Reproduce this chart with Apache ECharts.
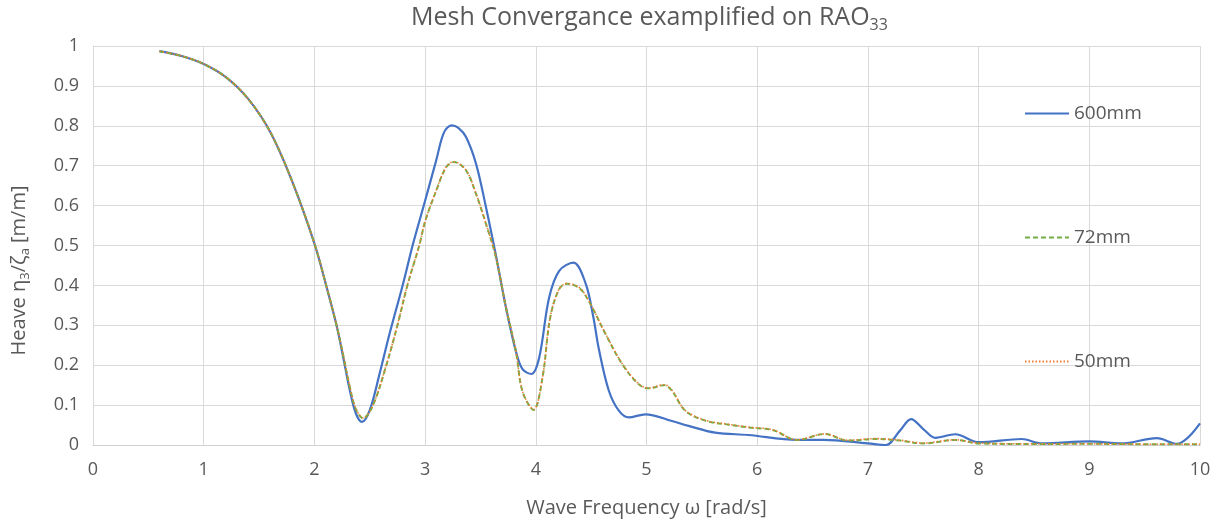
<!DOCTYPE html>
<html>
<head>
<meta charset="utf-8">
<script src="https://cdn.jsdelivr.net/npm/echarts@6/dist/echarts.min.js"></script>
<style>html,body{margin:0;padding:0;background:#fff;}#c{width:1225px;height:522px;}</style>
</head>
<body>
<div id="c"></div>
<script>
// ---- data ----
const xTicks = [0,1,2,3,4,5,6,7,8,9,10];
const yTicks = [0,0.1,0.2,0.3,0.4,0.5,0.6,0.7,0.8,0.9,1];

const x600 = [0.6,0.8,1.0,1.2,1.4,1.6,1.8,2.0,2.11,2.2,2.26,2.32,2.375,2.43,2.5,2.59,2.68,2.80,2.89,3.0,3.10,3.17,3.24,3.30,3.37,3.46,3.55,3.64,3.73,3.82,3.88,3.96,4.03,4.12,4.21,4.34,4.45,4.52,4.57,4.66,4.75,4.84,4.99,5.23,5.38,5.62,5.92,6.36,6.6,7.0,7.16,7.29,7.39,7.5,7.61,7.79,8.0,8.39,8.57,9.0,9.29,9.61,9.79,10.0];
const y600 = [0.987,0.975,0.955,0.922,0.868,0.785,0.66,0.505,0.396,0.30,0.22,0.137,0.079,0.058,0.0875,0.18,0.28,0.403,0.503,0.612,0.713,0.783,0.801,0.795,0.772,0.705,0.596,0.475,0.345,0.235,0.19,0.178,0.218,0.369,0.436,0.457,0.405,0.32,0.24,0.136,0.086,0.069,0.077,0.06,0.048,0.031,0.025,0.013,0.013,0.004,0.0,0.036,0.065,0.04,0.018,0.027,0.007,0.015,0.004,0.009,0.004,0.017,0.003,0.054];

const x72 = [0.6,0.8,1.0,1.2,1.4,1.6,1.8,2.0,2.11,2.2,2.26,2.32,2.375,2.44,2.53,2.65,2.75,2.84,2.95,3.0,3.10,3.19,3.26,3.37,3.46,3.55,3.64,3.73,3.82,3.88,3.98,4.06,4.13,4.21,4.28,4.39,4.48,4.63,4.78,4.93,5.02,5.16,5.23,5.35,5.53,5.74,5.92,6.14,6.36,6.61,6.82,7.07,7.29,7.5,7.79,8.0,8.5,9.0,9.5,10.0];
const y72 = [0.987,0.975,0.955,0.922,0.868,0.785,0.66,0.505,0.396,0.30,0.225,0.145,0.09,0.067,0.10,0.20,0.30,0.40,0.503,0.56,0.637,0.696,0.709,0.688,0.629,0.554,0.47,0.345,0.235,0.134,0.088,0.168,0.319,0.39,0.404,0.394,0.36,0.278,0.203,0.152,0.142,0.15,0.136,0.086,0.061,0.051,0.044,0.0375,0.0125,0.0275,0.011,0.015,0.011,0.004,0.0125,0.004,0.0025,0.003,0.002,0.002];

const x50 = [0.6,0.8,1.0,1.2,1.4,1.6,1.8,2.0,2.11,2.2,2.26,2.32,2.375,2.44,2.53,2.65,2.75,2.84,2.95,3.0,3.10,3.19,3.26,3.37,3.46,3.55,3.64,3.73,3.82,3.88,3.98,4.06,4.13,4.21,4.28,4.39,4.48,4.63,4.78,4.93,5.02,5.16,5.23,5.35,5.53,5.74,5.92,6.14,6.36,6.61,6.82,7.07,7.29,7.5,7.79,8.0,8.5,9.0,9.5,10.0];
const y50 = [0.987,0.975,0.955,0.922,0.868,0.785,0.66,0.505,0.397,0.301,0.226,0.146,0.091,0.068,0.101,0.201,0.301,0.401,0.504,0.561,0.638,0.697,0.71,0.689,0.63,0.555,0.471,0.346,0.236,0.135,0.089,0.169,0.32,0.391,0.405,0.395,0.361,0.279,0.204,0.153,0.143,0.151,0.137,0.087,0.062,0.052,0.045,0.038,0.013,0.028,0.012,0.016,0.012,0.005,0.013,0.005,0.003,0.003,0.002,0.002];

const seriesNames = ['600mm','72mm','50mm'];

function pairs(xs, ys){ return xs.map((x,i)=>[x, ys[i]]); }

const FONT = 'Open Sans';
const TXT = '#595959';
const chart = echarts.init(document.getElementById('c'));
chart.setOption({
  animation:false,
  textStyle:{fontFamily:FONT},
  title:{
    text:'{a|Mesh Convergance examplified on RAO}{s|33}',
    left:411, top:2, padding:0,
    textStyle:{fontWeight:'normal',rich:{
      a:{fontFamily:FONT,fontSize:25,fontWeight:'normal',color:TXT,lineHeight:31,verticalAlign:'middle'},
      s:{fontFamily:FONT,fontSize:16,fontWeight:'normal',color:TXT,lineHeight:16,verticalAlign:'bottom'}
    }}
  },
  grid:{left:93,right:25,top:46,bottom:77,containLabel:false,outerBoundsMode:'none'},
  legend:[0,1,2].map(i=>({
    data:[seriesNames[i]], orient:'vertical', left:1019, top:[99,223,347][i],
    itemWidth:44, itemHeight:14, itemGap:5,
    itemStyle:{opacity:0},
    textStyle:{fontFamily:FONT,fontSize:19,color:TXT}
  })),
  xAxis:{
    type:'value', min:0, max:10, interval:1,
    name:'Wave Frequency ω [rad/s]', nameLocation:'middle', nameGap:53,
    nameTextStyle:{fontFamily:FONT,fontSize:20,color:TXT},
    axisLine:{show:true,lineStyle:{color:'#D0D0D0',width:1}},
    axisTick:{show:false},
    axisLabel:{fontFamily:FONT,fontSize:18,color:TXT,margin:16,
      formatter:v=>xTicks.includes(v)?String(v):''},
    splitLine:{show:true,lineStyle:{color:'#D9D9D9',width:1}}
  },
  yAxis:{
    type:'value', min:0, max:1, interval:0.1,
    name:'Heave η{sub|3}/ζ{sub|a} [m/m]', nameLocation:'middle', nameGap:61, nameRotate:90,
    nameTextStyle:{fontFamily:FONT,fontSize:20,color:TXT,lineHeight:26,padding:[0,50,0,0],
      rich:{sub:{fontFamily:FONT,fontSize:13,color:TXT,lineHeight:15,verticalAlign:'bottom'}}},
    axisLine:{show:true,lineStyle:{color:'#D9D9D9'}},
    axisTick:{show:false},
    axisLabel:{fontFamily:FONT,fontSize:18,color:TXT,margin:14,
      formatter:v=>{const t=yTicks.find(k=>Math.abs(k-v)<1e-9);return t===undefined?'':String(t);}},
    splitLine:{show:true,lineStyle:{color:'#D9D9D9',width:1}}
  },
  series:[
    {name:seriesNames[0],type:'line',data:pairs(x600,y600),smooth:0.35,symbol:'none',
      lineStyle:{color:'#4472C4',width:2.2},itemStyle:{color:'#4472C4'}},
    {name:seriesNames[1],type:'line',data:pairs(x72,y72),smooth:0.35,symbol:'none',
      lineStyle:{color:'#70AD47',width:2,type:[5,3]},itemStyle:{color:'#70AD47'}},
    {name:seriesNames[2],type:'line',data:pairs(x50,y50),smooth:0.35,symbol:'none',
      lineStyle:{color:'#ED7D31',width:1.6,type:[1.5,2]},itemStyle:{color:'#ED7D31'}}
  ]
});
</script>
</body>
</html>
